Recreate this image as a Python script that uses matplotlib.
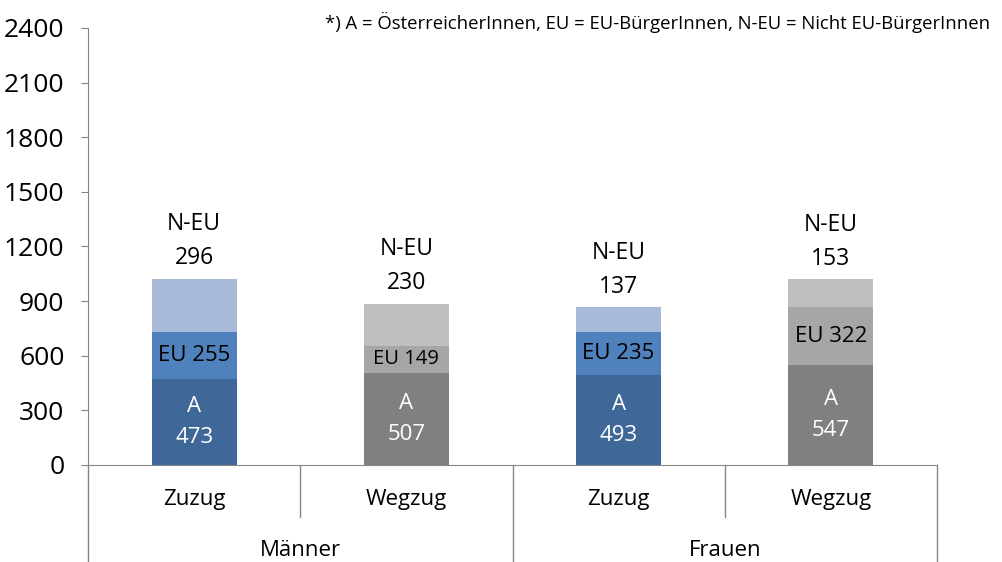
import matplotlib
matplotlib.use("Agg")
import matplotlib.pyplot as plt
from matplotlib.transforms import blended_transform_factory

plt.rcParams["font.family"] = ["Open Sans", "DejaVu Sans"]

# Daten
kategorien = ["Zuzug", "Wegzug", "Zuzug", "Wegzug"]
gruppen = ["Männer", "Frauen"]
a_werte = [473, 507, 493, 547]
eu_werte = [255, 149, 235, 322]
neu_werte = [296, 230, 137, 153]
y_ticks = [0, 300, 600, 900, 1200, 1500, 1800, 2100, 2400]
fussnote = "*) A = ÖsterreicherInnen, EU = EU-BürgerInnen, N-EU = Nicht EU-BürgerInnen"

farben_a = ["#3F6899", "#808080", "#3F6899", "#808080"]
farben_eu = ["#4F81BD", "#A6A6A6", "#4F81BD", "#A6A6A6"]
farben_neu = ["#A9BAD8", "#BFBFBF", "#A9BAD8", "#BFBFBF"]
eu_fs = [16, 14.5, 16, 16]

fig = plt.figure(figsize=(10.02, 5.62), dpi=100)
ax = fig.add_axes([88 / 1002, 1 - 465 / 562, (937 - 88) / 1002, 437 / 562])

x = list(range(len(kategorien)))
w = 0.4
ax.bar(x, a_werte, w, color=farben_a)
unten2 = [a + e for a, e in zip(a_werte, eu_werte)]
ax.bar(x, eu_werte, w, bottom=a_werte, color=farben_eu)
ax.bar(x, neu_werte, w, bottom=unten2, color=farben_neu)

for i in x:
    ax.text(i, a_werte[i] / 2, f"A\n{a_werte[i]}", ha="center", va="center",
            color="white", fontsize=16, linespacing=1.6)
    ax.text(i, a_werte[i] + eu_werte[i] / 2, f"EU {eu_werte[i]}", ha="center",
            va="center", color="black", fontsize=eu_fs[i])
    top = unten2[i] + neu_werte[i]
    ax.annotate(f"N-EU\n{neu_werte[i]}", (i, top), xytext=(0, 6),
                textcoords="offset points", ha="center", va="bottom",
                fontsize=16.5, linespacing=1.55)

ax.set_xlim(-0.5, 3.5)
ax.set_ylim(0, 2400)
ax.set_yticks(y_ticks)
ax.tick_params(axis="y", labelsize=19, length=5, color="#868686", pad=12)
ax.set_xticks([])
for s in ["top", "right"]:
    ax.spines[s].set_visible(False)
for s in ["left", "bottom"]:
    ax.spines[s].set_color("#868686")

# Kategorie-Achse mit Trennlinien
tr = blended_transform_factory(ax.transData, ax.transAxes)
for xb in [0.5, 2.5]:
    ax.plot([xb, xb], [0, -0.119], transform=tr, color="#868686", lw=1, clip_on=False)
for xb in [-0.5, 1.5, 3.5]:
    ax.plot([xb, xb], [0, -0.222], transform=tr, color="#868686", lw=1, clip_on=False)
for i, k in enumerate(kategorien):
    ax.text(i, -0.078, k, transform=tr, ha="center", va="center", fontsize=16)
for j, g in enumerate(gruppen):
    ax.text(0.5 + 2 * j, -0.195, g, transform=tr, ha="center", va="center", fontsize=16)

fig.text(990 / 1002, 1 - 22 / 562, fussnote, ha="right", va="center", fontsize=13.3)

fig.savefig("out.png", dpi=100)
